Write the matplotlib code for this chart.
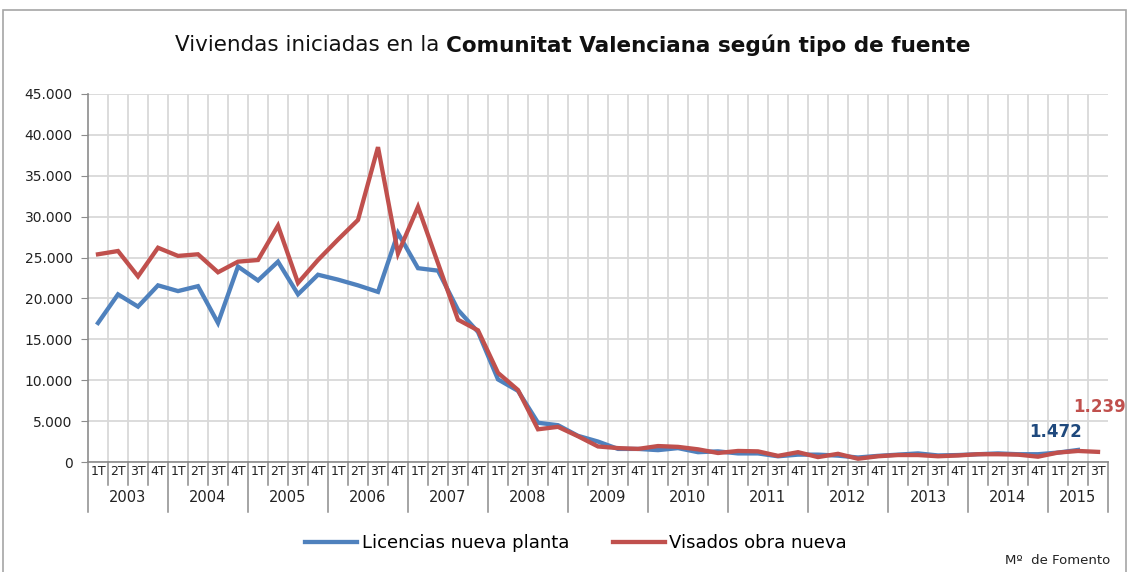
import numpy as np
import matplotlib
matplotlib.use("Agg")
import matplotlib.pyplot as plt
from matplotlib.ticker import FuncFormatter
from matplotlib.patches import Rectangle

years = ["2003", "2004", "2005", "2006", "2007", "2008", "2009",
         "2010", "2011", "2012", "2013", "2014", "2015"]
quarters = ["1T", "2T", "3T", "4T"]

# Licencias nueva planta (ends 2015 2T)
licencias = [17000, 20500, 19000, 21600, 20900, 21500, 17000, 23900,
             22200, 24500, 20500, 22900, 22300, 21600, 20800, 28000,
             23700, 23400, 18600, 15900, 10100, 8700, 4800, 4500,
             3200, 2500, 1600, 1600, 1450, 1700, 1200, 1300,
             1050, 1050, 700, 900, 900, 780, 550, 750,
             900, 1050, 800, 850, 950, 1050, 950, 950,
             1150, 1472]

# Visados obra nueva (ends 2015 3T)
visados = [25400, 25800, 22700, 26200, 25200, 25400, 23200, 24500,
           24700, 28900, 21900, 24700, 27200, 29600, 38500, 25500,
           31200, 24300, 17400, 16100, 10900, 8800, 4000, 4300,
           3150, 1900, 1700, 1600, 1950, 1850, 1550, 1100,
           1350, 1300, 750, 1200, 600, 1000, 400, 700,
           850, 850, 700, 800, 950, 950, 900, 650,
           1150, 1350, 1239]

blue = "#4f81bd"
red = "#c0504d"
grid_c = "#d9d9d9"
axis_c = "#8c8c8c"

n = len(visados)
fig = plt.figure(figsize=(11.29, 5.72), dpi=100)
ax = fig.add_axes([88 / 1129, 1 - 462 / 572, 1020 / 1129, 368 / 572])

x_lic = np.arange(len(licencias))
x_vis = np.arange(n)
ax.plot(x_lic, licencias, color=blue, lw=3.1, solid_joinstyle="miter", zorder=3,
        label="Licencias nueva planta")
ax.plot(x_vis, visados, color=red, lw=3.1, solid_joinstyle="miter", zorder=4,
        label="Visados obra nueva")

ax.set_xlim(-0.5, n - 0.5)
ax.set_ylim(0, 45000)
ax.set_yticks(np.arange(0, 45001, 5000))
ax.yaxis.set_major_formatter(FuncFormatter(lambda v, p: f"{int(v):,}".replace(",", ".")))
ax.tick_params(axis="y", direction="out", length=5, color=axis_c, labelsize=10,
               labelcolor="#222222", pad=6)
ax.set_xticks([])
ax.yaxis.grid(True, color=grid_c, lw=1.3)
ax.set_axisbelow(True)
for b in np.arange(0.5, n - 0.5, 1):
    ax.axvline(b, color=grid_c, lw=1.3, zorder=0)
for s in ["top", "right"]:
    ax.spines[s].set_visible(False)
ax.spines["left"].set_color(axis_c)
ax.spines["bottom"].set_color(axis_c)
ax.spines["left"].set_linewidth(1.2)
ax.spines["bottom"].set_linewidth(1.2)

# multi-level category axis
tr = ax.get_xaxis_transform()
year_bounds = [-0.5 + 4 * k for k in range(len(years))] + [n - 0.5]
for i in range(1, n):
    b = i - 0.5
    if b in year_bounds:
        continue
    ax.plot([b, b], [0, -0.063], transform=tr, color=axis_c, lw=1.1, clip_on=False)
for b in year_bounds:
    ax.plot([b, b], [0, -0.135], transform=tr, color=axis_c, lw=1.1, clip_on=False)
for i in range(n):
    ax.text(i, -0.026, quarters[i % 4], transform=tr, ha="center", va="center",
            fontsize=9, color="#222222")
for k, y in enumerate(years):
    lo = year_bounds[k]
    hi = year_bounds[k + 1]
    ax.text((lo + hi) / 2, -0.097, y, transform=tr, ha="center", va="center",
            fontsize=10.5, color="#222222")

# data labels
ax.text(len(licencias) - 2.1, 3700, "1.472", color="#1f497d", fontsize=12,
        fontweight="bold", ha="center", va="center", clip_on=False)
ax.text(n - 0.9, 6700, "1.239", color=red, fontsize=12,
        fontweight="bold", ha="center", va="center", clip_on=False)

# title: regular + bold parts
t1 = fig.text(0, 1 - 45 / 572, "Viviendas iniciadas en la ", fontsize=15.5,
              ha="left", va="center", color="#111111")
t2 = fig.text(0, 1 - 45 / 572, "Comunitat Valenciana según tipo de fuente",
              fontsize=15.5, fontweight="bold", ha="left", va="center", color="#111111")
fig.canvas.draw()
r = fig.canvas.get_renderer()
w1 = t1.get_window_extent(r).width
w2 = t2.get_window_extent(r).width
x0 = 573 - (w1 + w2) / 2
t1.set_x(x0 / 1129)
t2.set_x((x0 + w1) / 1129)

fig.legend(loc="center", bbox_to_anchor=(576 / 1129, 1 - 543 / 572), ncol=2,
           frameon=False, fontsize=13, handlelength=2.9, handletextpad=0.25,
           columnspacing=2.4)
fig.text(1110 / 1129, 1 - 561 / 572, "Mº  de Fomento", fontsize=9.5,
         ha="right", va="center", color="#222222")

fig.patches.append(Rectangle((3 / 1129, -0.01), 1123 / 1129, 1 - 10 / 572 + 0.01,
                             transform=fig.transFigure, fill=False,
                             edgecolor="#a6a6a6", lw=1.2))

fig.savefig("out.png", dpi=100)
